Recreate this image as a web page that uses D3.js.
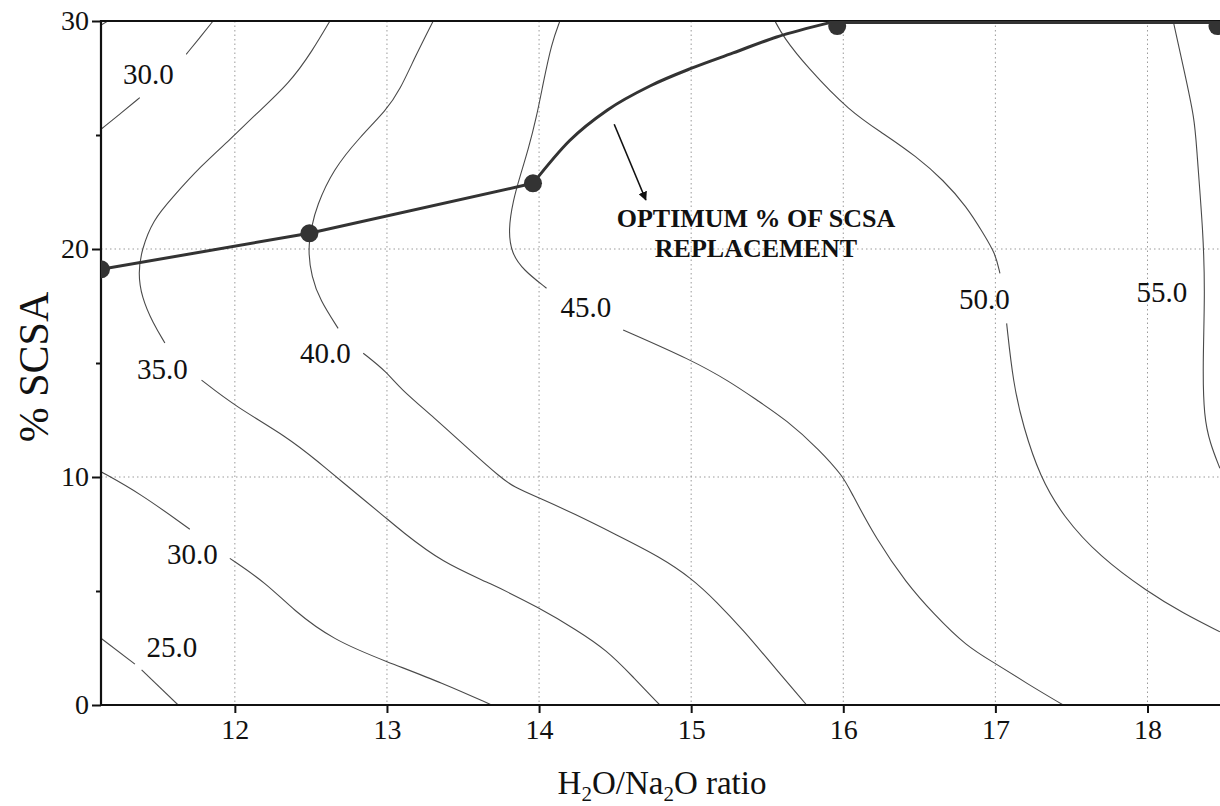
<!DOCTYPE html>
<html>
<head>
<meta charset="utf-8">
<script src="https://cdn.jsdelivr.net/npm/d3@7"></script>
<style>
  body { margin: 0; background: #fff; }
  svg { display: block; }
  svg text { font-family: "Liberation Serif", "Times New Roman", serif; }
</style>
</head>
<body>
<svg id="chart" width="1220" height="806"></svg>
<script>
  // axis ranges and ticks
  var X_DOMAIN = [11.12, 18.48];
  var Y_DOMAIN = [0, 30];
  var X_TICKS = [12, 13, 14, 15, 16, 17, 18];
  var Y_TICKS = [0, 10, 20, 30];
  var Y_MINOR = [5, 15, 25];
  var X_GRID = [12, 13, 14, 15, 16, 17, 18];
  var Y_GRID = [10, 20];

  // contour segments [H2O/Na2O, %SCSA], broken where Origin put the labels
  var c25top = [[11.12, 29.82], [11.165, 30]];
  var c25a = [[11.12, 2.93], [11.343, 1.79]];
  var c25b = [[11.387, 1.54], [11.627, 0]];
  var c30upA = [[11.12, 25.25], [11.25, 25.95], [11.375, 26.64]];
  var c30upB = [[11.68, 28.54], [11.77, 29.27], [11.857, 30]];
  var c30loA = [[11.12, 10.23], [11.375, 9.29], [11.704, 7.71]];
  var c30loB = [[11.967, 6.43], [12.208, 5.34], [12.383, 4.17], [12.646, 2.85],
                [12.997, 1.90], [13.368, 0.96], [13.688, 0]];
  var c35a = [[12.625, 30], [12.513, 28.73], [12.362, 27.28], [12.118, 25.79],
              [11.987, 24.91], [11.770, 23.60], [11.592, 22.28], [11.461, 21.27],
              [11.387, 19.96], [11.364, 18.95], [11.387, 17.89], [11.461, 16.75],
              [11.540, 15.88]];
  var c35b = [[11.781, 14.25], [12.0, 13.11], [12.342, 11.77], [12.559, 10.61],
              [12.690, 9.87], [12.997, 8.19], [13.085, 7.68], [13.368, 6.23],
              [13.677, 5.35], [14.005, 4.25], [14.247, 3.29], [14.444, 2.41],
              [14.617, 1.24], [14.794, 0]];
  var c40a = [[13.304, 30], [13.19, 28.5], [13.085, 26.97], [12.997, 26.10],
              [12.822, 24.91], [12.644, 23.47], [12.537, 21.86], [12.504, 20.98],
              [12.480, 19.96], [12.504, 18.79], [12.559, 17.76], [12.679, 16.52]];
  var c40b = [[12.844, 15.43], [12.997, 14.62], [13.085, 13.89], [13.304, 12.64],
              [13.567, 11.04], [13.742, 10.01], [13.830, 9.57], [14.005, 9.07],
              [14.224, 8.41], [14.510, 7.46], [14.794, 6.50], [15.003, 5.56],
              [15.167, 4.53], [15.342, 3.29], [15.562, 1.54], [15.759, 0]];
  var c45a = [[14.137, 30], [14.082, 29.02], [14.027, 27.27], [13.984, 25.80],
              [13.928, 24.34], [13.874, 23.17], [13.830, 22.15], [13.797, 20.83],
              [13.819, 19.81], [13.896, 19.08], [14.049, 18.28]];
  var c45b = [[14.553, 16.45], [15.003, 15.13], [15.255, 14.18], [15.430, 13.38],
              [15.627, 12.50], [15.846, 11.18], [16.0, 10.01], [16.044, 9.43],
              [16.219, 7.24], [16.416, 5.34], [16.591, 4.02], [16.811, 2.56],
              [17.0, 1.83], [17.205, 0.95], [17.446, 0]];
  var c50a = [[15.551, 30], [15.605, 29.31], [15.759, 28.00], [16.044, 26.02],
              [16.263, 25.07], [16.482, 24.05], [16.657, 23.03], [16.811, 21.86],
              [16.920, 20.69], [17.0, 19.81], [17.030, 18.93]];
  var c50b = [[17.074, 16.74], [17.117, 14.11], [17.183, 12.21], [17.293, 10.01],
              [17.446, 8.26], [17.687, 6.50], [18.0, 4.97], [18.235, 4.02],
              [18.476, 3.21]];
  var c55 = [[18.169, 30], [18.235, 28.00], [18.312, 25.66], [18.323, 24.34],
             [18.367, 20.69], [18.378, 18.06], [18.363, 14.84], [18.371, 12.64],
             [18.411, 11.48], [18.476, 10.38]];

  var CONTOUR_SEGMENTS = [c25top, c25a, c25b, c30upA, c30upB, c30loA, c30loB,
                          c35a, c35b, c40a, c40b, c45a, c45b, c50a, c50b, c55];

  // contour label text and anchor (data coords)
  var CONTOUR_LABELS = [
    { t: '30.0', x: 11.431, y: 27.24 },
    { t: '35.0', x: 11.523, y: 14.30 },
    { t: '40.0', x: 12.595, y: 15.00 },
    { t: '30.0', x: 11.721, y: 6.18 },
    { t: '25.0', x: 11.586, y: 2.11 },
    { t: '45.0', x: 14.308, y: 17.02 },
    { t: '50.0', x: 16.928, y: 17.37 },
    { t: '55.0', x: 18.095, y: 17.68 }
  ];

  // optimum replacement path and its measured points
  var OPT_LINE = [[11.12, 19.11], [12.49, 20.69], [13.96, 22.88]];
  var OPT_CURVE = [[13.96, 22.88], [14.20, 24.75], [14.45, 26.10], [14.729, 27.15],
                   [15.003, 27.93], [15.276, 28.60], [15.562, 29.30], [15.912, 29.93]];
  var OPT_TOP = [[15.912, 29.93], [18.48, 29.93]];
  var OPT_POINTS = [[11.12, 19.11], [12.49, 20.69], [13.96, 22.88], [15.96, 29.78], [18.46, 29.78]];

  var ARROW = { x1: 14.494, y1: 25.47, x2: 14.702, y2: 22.15 };
  var NOTE = { x: 15.426, y: 20.95, lines: ['OPTIMUM % OF SCSA', 'REPLACEMENT'] };

  var svg = d3.select('#chart');
  var L = 101, R = 1220.5, T = 21, B = 705;

  var x = d3.scaleLinear().domain(X_DOMAIN).range([L, R]);
  var y = d3.scaleLinear().domain(Y_DOMAIN).range([B, T]);

  var defs = svg.append('defs');
  defs.append('clipPath').attr('id', 'plotClip')
    .append('rect').attr('x', L).attr('y', T).attr('width', R - L).attr('height', B - T);

  defs.append('marker')
    .attr('id', 'arrowHead').attr('viewBox', '0 0 10 10')
    .attr('refX', 9).attr('refY', 5)
    .attr('markerWidth', 9).attr('markerHeight', 9)
    .attr('markerUnits', 'userSpaceOnUse')
    .attr('orient', 'auto')
    .append('path').attr('d', 'M0,0 L10,5 L0,10 Z').attr('fill', '#111');

  // grid
  var grid = svg.append('g').attr('stroke', '#9a9a9a').attr('stroke-width', 1)
    .attr('stroke-dasharray', '1.5,3');
  grid.selectAll('.gx').data(X_GRID).join('line')
    .attr('x1', function (d) { return x(d); }).attr('x2', function (d) { return x(d); })
    .attr('y1', T).attr('y2', B);
  grid.selectAll('.gy').data(Y_GRID).join('line')
    .attr('y1', function (d) { return y(d); }).attr('y2', function (d) { return y(d); })
    .attr('x1', L).attr('x2', R);

  // contours
  var smooth = d3.line()
    .x(function (d) { return x(d[0]); })
    .y(function (d) { return y(d[1]); })
    .curve(d3.curveBasis);

  svg.append('g').attr('clip-path', 'url(#plotClip)')
    .selectAll('path').data(CONTOUR_SEGMENTS).join('path')
    .attr('d', smooth)
    .attr('fill', 'none')
    .attr('stroke', '#4a4a4a')
    .attr('stroke-width', 1.1);

  svg.append('g').selectAll('text').data(CONTOUR_LABELS).join('text')
    .attr('x', function (d) { return x(d.x); })
    .attr('y', function (d) { return y(d.y); })
    .attr('text-anchor', 'middle')
    .attr('font-size', 29)
    .attr('fill', '#111')
    .text(function (d) { return d.t; });

  // axes
  function styleAxis(g) {
    g.attr('font-family', null);
    g.select('.domain').remove();
    g.selectAll('.tick line').attr('stroke', '#111').attr('stroke-width', 2);
    g.selectAll('.tick text').attr('font-size', 28).attr('fill', '#111');
  }
  var axisG = svg.append('g');
  axisG.append('g').attr('transform', 'translate(0,' + B + ')')
    .call(d3.axisBottom(x).tickValues(X_TICKS).tickSize(8).tickPadding(6).tickFormat(d3.format('d')))
    .call(styleAxis);
  axisG.append('g').attr('transform', 'translate(' + L + ',0)')
    .call(d3.axisLeft(y).tickValues(Y_TICKS).tickSize(9).tickPadding(3).tickFormat(d3.format('d')))
    .call(styleAxis);
  axisG.append('g').attr('transform', 'translate(' + L + ',0)')
    .call(d3.axisLeft(y).tickValues(Y_MINOR).tickSize(5).tickFormat(''))
    .call(styleAxis);

  // frame: left, bottom, top
  axisG.append('path')
    .attr('d', 'M' + R + ',' + T + 'H' + L + 'V' + B + 'H' + R)
    .attr('fill', 'none').attr('stroke', '#111').attr('stroke-width', 2.2);

  // optimum path
  var straight = d3.line()
    .x(function (d) { return x(d[0]); })
    .y(function (d) { return y(d[1]); });
  var arc = d3.line()
    .x(function (d) { return x(d[0]); })
    .y(function (d) { return y(d[1]); })
    .curve(d3.curveMonotoneX);
  var optG = svg.append('g').attr('clip-path', 'url(#plotClip)')
    .attr('fill', 'none').attr('stroke', '#333').attr('stroke-width', 3);
  optG.append('path').datum(OPT_LINE).attr('d', straight);
  optG.append('path').datum(OPT_CURVE).attr('d', arc);
  optG.append('path').datum(OPT_TOP).attr('d', straight);
  svg.append('g').attr('clip-path', 'url(#plotClip)')
    .selectAll('circle').data(OPT_POINTS).join('circle')
    .attr('cx', function (d) { return x(d[0]); })
    .attr('cy', function (d) { return y(d[1]); })
    .attr('r', 9)
    .attr('fill', '#333');

  // annotation
  svg.append('line')
    .attr('x1', x(ARROW.x1)).attr('y1', y(ARROW.y1))
    .attr('x2', x(ARROW.x2)).attr('y2', y(ARROW.y2))
    .attr('stroke', '#111').attr('stroke-width', 1.6)
    .attr('marker-end', 'url(#arrowHead)');

  svg.append('g').selectAll('text').data(NOTE.lines).join('text')
    .attr('x', x(NOTE.x))
    .attr('y', function (d, i) { return y(NOTE.y) + i * 30; })
    .attr('text-anchor', 'middle')
    .attr('font-size', 26)
    .attr('font-weight', 'bold')
    .attr('fill', '#111')
    .text(function (d) { return d; });

  // axis titles
  var xt = svg.append('text')
    .attr('x', 662)
    .attr('y', 794)
    .attr('text-anchor', 'middle')
    .attr('font-size', 33)
    .attr('fill', '#111');
  xt.append('tspan').text('H');
  xt.append('tspan').attr('font-size', 21).attr('dy', 7).text('2');
  xt.append('tspan').attr('dy', -7).text('O/Na');
  xt.append('tspan').attr('font-size', 21).attr('dy', 7).text('2');
  xt.append('tspan').attr('dy', -7).text('O ratio');

  svg.append('text')
    .attr('transform', 'translate(48,' + ((T + B) / 2 + 4) + ') rotate(-90)')
    .attr('text-anchor', 'middle')
    .attr('font-size', 42)
    .attr('fill', '#111')
    .text('% SCSA');
</script>
</body>
</html>
